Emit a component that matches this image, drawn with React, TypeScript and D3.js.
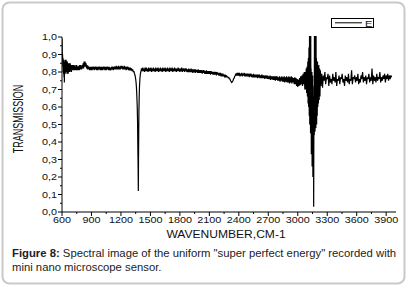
import React from "react";
import * as d3 from "d3";

type P = [number, number];

const xTicks = [600, 900, 1200, 1500, 1800, 2100, 2400, 2700, 3000, 3300, 3600, 3900];
const yTicks = [0, 0.1, 0.2, 0.3, 0.4, 0.5, 0.6, 0.7, 0.8, 0.9, 1.0];
const seriesName = "E";

const startRegion: P[] = [
  [600, 0.99], [602, 0.93], [604, 0.87], [606, 0.9], [608, 0.83], [610, 0.88], [612, 0.8], [614, 0.87],
  [616, 0.79], [618, 0.86], [620, 0.77], [622, 0.85], [624, 0.74], [626, 0.84], [628, 0.8], [630, 0.87],
  [633, 0.79], [636, 0.86], [639, 0.8], [642, 0.87], [645, 0.81], [648, 0.85], [651, 0.79], [654, 0.86],
  [657, 0.8], [660, 0.85], [663, 0.79], [666, 0.84], [669, 0.8], [672, 0.85], [675, 0.81], [678, 0.84],
  [681, 0.8], [684, 0.85], [688, 0.81], [692, 0.84], [696, 0.8], [700, 0.84], [704, 0.81], [708, 0.84],
  [712, 0.81], [716, 0.84], [720, 0.81], [724, 0.835], [728, 0.81], [732, 0.84], [736, 0.81], [740, 0.83],
  [744, 0.81], [748, 0.84], [752, 0.81], [756, 0.83], [760, 0.81], [764, 0.835], [768, 0.81], [772, 0.83],
  [776, 0.81], [780, 0.84], [784, 0.815], [788, 0.84], [792, 0.815], [796, 0.835], [800, 0.815], [805, 0.84],
  [810, 0.82], [815, 0.85], [820, 0.82], [825, 0.86], [830, 0.83], [835, 0.86], [840, 0.83], [845, 0.85],
  [850, 0.82], [855, 0.84], [860, 0.815], [865, 0.835], [870, 0.815], [876, 0.83], [882, 0.81], [888, 0.83],
  [894, 0.81], [900, 0.83], [906, 0.81], [912, 0.83], [918, 0.815], [924, 0.83], [930, 0.81], [936, 0.83],
  [942, 0.815], [948, 0.83], [954, 0.81], [960, 0.83], [966, 0.81], [972, 0.83], [978, 0.815], [984, 0.83],
  [990, 0.81], [996, 0.83],
];

const plateauRegion: P[] = [
  [1002, 0.81], [1008, 0.83], [1014, 0.81], [1020, 0.83], [1026, 0.815], [1032, 0.83], [1038, 0.81],
  [1044, 0.83], [1050, 0.81], [1056, 0.83], [1062, 0.815], [1068, 0.83], [1074, 0.81], [1080, 0.83],
  [1086, 0.81], [1092, 0.825], [1098, 0.81], [1104, 0.83], [1110, 0.815], [1116, 0.83], [1122, 0.81],
  [1128, 0.83], [1134, 0.815], [1140, 0.83], [1146, 0.815], [1152, 0.835], [1158, 0.815], [1164, 0.83],
  [1170, 0.815], [1176, 0.835], [1182, 0.815], [1188, 0.83], [1194, 0.815], [1200, 0.835], [1206, 0.82],
  [1212, 0.835], [1218, 0.815], [1224, 0.83], [1230, 0.815], [1236, 0.835], [1242, 0.815], [1248, 0.83],
  [1254, 0.81], [1260, 0.83], [1266, 0.815], [1272, 0.83], [1278, 0.81], [1284, 0.825], [1290, 0.81],
  [1296, 0.825], [1302, 0.81], [1308, 0.82], [1314, 0.805], [1320, 0.815], [1326, 0.8], [1332, 0.805],
  [1338, 0.79],
];

const sharpDip: P[] = [
  [1344, 0.78], [1350, 0.76], [1354, 0.74], [1358, 0.71], [1362, 0.66], [1366, 0.6], [1369, 0.52],
  [1371, 0.42], [1373, 0.33], [1375, 0.25], [1377, 0.12], [1379, 0.31], [1381, 0.45], [1383, 0.58],
  [1386, 0.66], [1389, 0.72], [1393, 0.76], [1398, 0.79], [1404, 0.805], [1410, 0.82],
];

const midRegion: P[] = [
  [1416, 0.805], [1422, 0.825], [1428, 0.805], [1434, 0.82], [1440, 0.8], [1446, 0.825], [1452, 0.805],
  [1458, 0.825], [1464, 0.805], [1470, 0.82], [1476, 0.8], [1482, 0.825], [1488, 0.805], [1494, 0.82],
  [1500, 0.805], [1506, 0.825], [1512, 0.8], [1518, 0.82], [1524, 0.805], [1530, 0.825], [1536, 0.805],
  [1542, 0.82], [1548, 0.8], [1554, 0.825], [1560, 0.805], [1566, 0.82], [1572, 0.805], [1578, 0.825],
  [1584, 0.8], [1590, 0.82], [1596, 0.805], [1602, 0.825], [1608, 0.805], [1614, 0.82], [1620, 0.8],
  [1626, 0.825], [1632, 0.805], [1638, 0.82], [1644, 0.805], [1650, 0.825], [1656, 0.8], [1662, 0.82],
  [1668, 0.805], [1674, 0.825], [1680, 0.805], [1686, 0.82], [1692, 0.8], [1698, 0.825], [1704, 0.805],
  [1710, 0.82], [1716, 0.805], [1722, 0.825], [1728, 0.8], [1734, 0.82], [1740, 0.805], [1746, 0.825],
  [1752, 0.805], [1758, 0.82], [1764, 0.8], [1770, 0.82], [1776, 0.805], [1782, 0.825], [1788, 0.805],
  [1794, 0.82], [1800, 0.8], [1806, 0.82], [1812, 0.805], [1818, 0.825], [1824, 0.8], [1830, 0.82],
  [1836, 0.805], [1842, 0.82], [1848, 0.8], [1854, 0.82], [1860, 0.805], [1866, 0.82], [1872, 0.8],
  [1878, 0.815], [1884, 0.8], [1890, 0.82], [1896, 0.8], [1902, 0.815], [1908, 0.8], [1914, 0.82],
  [1920, 0.8], [1926, 0.815], [1932, 0.795], [1938, 0.815], [1944, 0.8], [1950, 0.815], [1956, 0.795],
  [1962, 0.815], [1968, 0.8], [1974, 0.81], [1980, 0.795], [1986, 0.815], [1992, 0.795], [1998, 0.81],
  [2004, 0.795], [2010, 0.81], [2016, 0.795], [2022, 0.81], [2028, 0.79], [2034, 0.81], [2040, 0.795],
  [2046, 0.81], [2052, 0.79], [2058, 0.805], [2064, 0.79], [2070, 0.81], [2076, 0.79], [2082, 0.805],
  [2088, 0.79], [2094, 0.805], [2100, 0.79], [2106, 0.805], [2112, 0.785], [2118, 0.805], [2124, 0.79],
  [2130, 0.8], [2136, 0.785], [2142, 0.8], [2148, 0.785], [2154, 0.8], [2160, 0.785], [2166, 0.8],
  [2172, 0.78], [2178, 0.8], [2184, 0.785], [2190, 0.795], [2196, 0.78], [2202, 0.795], [2208, 0.78],
  [2214, 0.795], [2220, 0.775], [2226, 0.79], [2232, 0.775], [2238, 0.79], [2244, 0.775], [2250, 0.785],
  [2256, 0.77], [2262, 0.785], [2268, 0.77], [2274, 0.78], [2280, 0.77],
];

const smallDipRegion: P[] = [
  [2286, 0.775], [2292, 0.765], [2298, 0.77], [2304, 0.76], [2310, 0.76], [2316, 0.75], [2322, 0.745],
  [2328, 0.74], [2334, 0.745], [2340, 0.75], [2346, 0.76], [2352, 0.765], [2358, 0.775], [2364, 0.78],
  [2370, 0.79], [2376, 0.78], [2382, 0.795], [2388, 0.78], [2394, 0.795], [2400, 0.78], [2406, 0.795],
  [2412, 0.775], [2418, 0.79], [2424, 0.78], [2430, 0.795], [2436, 0.775], [2442, 0.79], [2448, 0.78],
  [2454, 0.795], [2460, 0.775], [2466, 0.79], [2472, 0.775], [2478, 0.79], [2484, 0.775], [2490, 0.79],
  [2496, 0.775], [2502, 0.79], [2508, 0.77], [2514, 0.79], [2520, 0.775], [2526, 0.79], [2532, 0.77],
  [2538, 0.785], [2544, 0.77], [2550, 0.79], [2556, 0.77], [2562, 0.785], [2568, 0.77], [2574, 0.785],
  [2580, 0.77], [2586, 0.785], [2592, 0.765], [2598, 0.785], [2604, 0.77], [2610, 0.785], [2616, 0.765],
  [2622, 0.78], [2628, 0.765], [2634, 0.785], [2640, 0.765], [2646, 0.78], [2652, 0.765], [2658, 0.78],
  [2664, 0.76], [2670, 0.78], [2676, 0.765], [2682, 0.78], [2688, 0.76], [2694, 0.78], [2700, 0.76],
  [2706, 0.775], [2712, 0.76], [2718, 0.78], [2724, 0.755], [2730, 0.775], [2736, 0.76], [2742, 0.775],
  [2748, 0.755], [2754, 0.775], [2760, 0.755], [2766, 0.775], [2772, 0.75], [2778, 0.775], [2784, 0.755],
  [2790, 0.775], [2796, 0.75], [2802, 0.77], [2808, 0.75], [2814, 0.775], [2820, 0.745], [2826, 0.77],
  [2832, 0.75], [2838, 0.775], [2844, 0.745], [2850, 0.77], [2856, 0.745], [2862, 0.775], [2868, 0.74],
  [2874, 0.77], [2880, 0.745], [2886, 0.775], [2892, 0.74], [2898, 0.77], [2904, 0.74], [2910, 0.775],
  [2916, 0.735], [2922, 0.77], [2928, 0.74], [2934, 0.775], [2940, 0.735], [2946, 0.77], [2952, 0.74],
  [2958, 0.765], [2964, 0.73], [2970, 0.77], [2976, 0.73], [2982, 0.765], [2988, 0.72], [2994, 0.76],
  [3000, 0.715], [3006, 0.755], [3012, 0.72], [3018, 0.765], [3024, 0.725], [3030, 0.775], [3036, 0.73],
  [3042, 0.78], [3048, 0.72], [3054, 0.79], [3060, 0.73], [3066, 0.8], [3072, 0.7], [3078, 0.8],
];

const chaosRegion: P[] = [
  [3082, 0.7], [3086, 0.82], [3090, 0.68], [3094, 0.83], [3098, 0.66], [3102, 0.86], [3105, 0.62],
  [3108, 0.88], [3111, 0.6], [3114, 0.94], [3117, 0.55], [3120, 1.05], [3122, 0.5], [3124, 1.05],
  [3126, 0.6], [3128, 0.95], [3130, 0.45], [3132, 1.05], [3134, 0.52], [3136, 0.82], [3138, 0.33],
  [3140, 0.76], [3142, 0.48], [3144, 0.8], [3146, 0.26], [3148, 0.72], [3150, 0.46], [3152, 0.78],
  [3154, 0.2], [3156, 0.66], [3158, 0.38], [3160, 0.6], [3162, 0.03], [3164, 0.52], [3166, 0.72],
  [3168, 0.44], [3170, 1.05], [3172, 0.5], [3174, 1.05], [3176, 0.46], [3178, 1.05], [3180, 0.52],
  [3182, 0.92], [3184, 0.48], [3186, 1.05], [3188, 0.55], [3190, 0.88], [3192, 0.5], [3195, 0.84],
  [3198, 0.55], [3201, 0.86], [3204, 0.6], [3207, 0.83], [3210, 0.62], [3214, 0.84], [3218, 0.64],
  [3222, 0.82], [3226, 0.66], [3230, 0.81],
];

const tailRegion: P[] = [
  [3236, 0.72], [3244, 0.79], [3252, 0.71], [3260, 0.78], [3268, 0.75], [3276, 0.8], [3284, 0.73],
  [3292, 0.77], [3300, 0.76], [3308, 0.79], [3316, 0.72], [3324, 0.78], [3332, 0.74], [3340, 0.76],
  [3348, 0.73], [3356, 0.79], [3364, 0.75], [3372, 0.77], [3380, 0.74], [3388, 0.8], [3396, 0.72],
  [3404, 0.76], [3412, 0.75], [3420, 0.78], [3428, 0.73], [3436, 0.77], [3444, 0.76], [3452, 0.79],
  [3460, 0.74], [3468, 0.76], [3476, 0.72], [3484, 0.78], [3492, 0.75], [3500, 0.77], [3508, 0.74],
  [3516, 0.79], [3524, 0.73], [3532, 0.76], [3540, 0.75], [3548, 0.81], [3556, 0.73], [3564, 0.77],
  [3572, 0.76], [3580, 0.78], [3588, 0.74], [3596, 0.77], [3604, 0.75], [3612, 0.79], [3620, 0.73],
  [3628, 0.76], [3636, 0.74], [3644, 0.78], [3652, 0.76], [3660, 0.8], [3668, 0.74], [3676, 0.77],
  [3684, 0.75], [3692, 0.78], [3700, 0.73], [3708, 0.77], [3716, 0.76], [3724, 0.79], [3732, 0.74],
  [3740, 0.77], [3748, 0.75], [3756, 0.82], [3764, 0.73], [3772, 0.78], [3780, 0.75], [3788, 0.77],
  [3796, 0.74], [3804, 0.79], [3812, 0.75], [3820, 0.77], [3828, 0.76], [3836, 0.8], [3844, 0.74],
  [3852, 0.77], [3860, 0.75], [3868, 0.78], [3876, 0.76], [3884, 0.79], [3892, 0.74], [3900, 0.78],
  [3908, 0.76], [3916, 0.79], [3924, 0.75], [3932, 0.78], [3940, 0.76], [3948, 0.78], [3956, 0.77],
];

const spectrum: P[] = [
  ...startRegion, ...plateauRegion, ...sharpDip, ...midRegion,
  ...smallDipRegion, ...chaosRegion, ...tailRegion,
];

export default function App() {
  const W = 408, H = 287;
  const left = 62, right = 396, top = 37, bottom = 212;
  const x = d3.scaleLinear().domain([600, 4000]).range([left, right]);
  const y = d3.scaleLinear().domain([0, 1]).range([bottom, top]);
  const line = d3.line<P>().x((d) => x(d[0])).y((d) => y(d[1]));
  const minorX = d3.range(600, 4000, 150);
  const minorY = d3.range(0, 1.0001, 0.05);
  const fmt = (v: number) => v.toFixed(1).replace(".", ",");
  const font = "Arial, 'Liberation Sans', sans-serif";
  const textCol = "#111";

  return (
    <svg width={W} height={H} style={{ position: "fixed", left: 0, top: 0 }} fontFamily={font}>
      <rect x={0} y={0} width={W} height={H} fill="#fff" />
      <rect x={2.5} y={2.5} width={402} height={281} rx={7} fill="#fff" stroke="#c9c9c9" strokeWidth={2} />
      <defs>
        <clipPath id="plotclip">
          <rect x={left} y={top - 1} width={right - left + 5} height={bottom - top + 1} />
        </clipPath>
      </defs>
      <path d={line(spectrum) || ""} fill="none" stroke="#000" strokeWidth={1.2} strokeLinejoin="miter" strokeMiterlimit={2} clipPath="url(#plotclip)" />
      <line x1={left} y1={top} x2={left} y2={bottom} stroke="#000" strokeWidth={1} />
      <line x1={left} y1={bottom} x2={right} y2={bottom} stroke="#000" strokeWidth={1} />
      {minorY.map((v, i) => (
        <line key={"my" + i} x1={left - (i % 2 === 0 ? 4 : 2)} x2={left} y1={y(v)} y2={y(v)} stroke="#000" strokeWidth={1} />
      ))}
      {minorX.map((v, i) => (
        <line key={"mx" + i} x1={x(v)} x2={x(v)} y1={bottom} y2={bottom + (i % 2 === 0 ? 4 : 2)} stroke="#000" strokeWidth={1} />
      ))}
      {yTicks.map((v) => (
        <text key={"yt" + v} transform={`translate(${left - 5},${y(v) + 3.2}) scale(1.2,1)`} textAnchor="end" fontSize={9} fill={textCol}>
          {fmt(v)}
        </text>
      ))}
      {xTicks.map((v) => (
        <text key={"xt" + v} transform={`translate(${x(v)},${bottom + 10.5}) scale(1.2,1)`} textAnchor="middle" fontSize={9} fill={textCol}>
          {v}
        </text>
      ))}
      <text transform={`translate(226,238) scale(1.15,1)`} textAnchor="middle" fontSize={10.5} fill={textCol}>
        WAVENUMBER,CM-1
      </text>
      <text transform={`translate(23,119) scale(1.6,1) rotate(-90)`} textAnchor="middle" fontSize={9} fill={textCol}>
        TRANSMISSION
      </text>
      <rect x={331.5} y={18.5} width={42} height={9} fill="#fff" stroke="#000" strokeWidth={1} />
      <line x1={335} x2={362} y1={22.8} y2={22.8} stroke="#000" strokeWidth={1} />
      <text transform={`translate(365,26.5) scale(1.3,1)`} fontSize={8.5} fill={textCol}>
        {seriesName}
      </text>
      <text x={12} y={257} fontSize={11.3} fill="#222">
        <tspan fontWeight="bold">Figure 8:</tspan> Spectral image of the uniform "super perfect energy" recorded with
      </text>
      <text x={12} y={271} fontSize={11.3} fill="#222">
        mini nano microscope sensor.
      </text>
    </svg>
  );
}
